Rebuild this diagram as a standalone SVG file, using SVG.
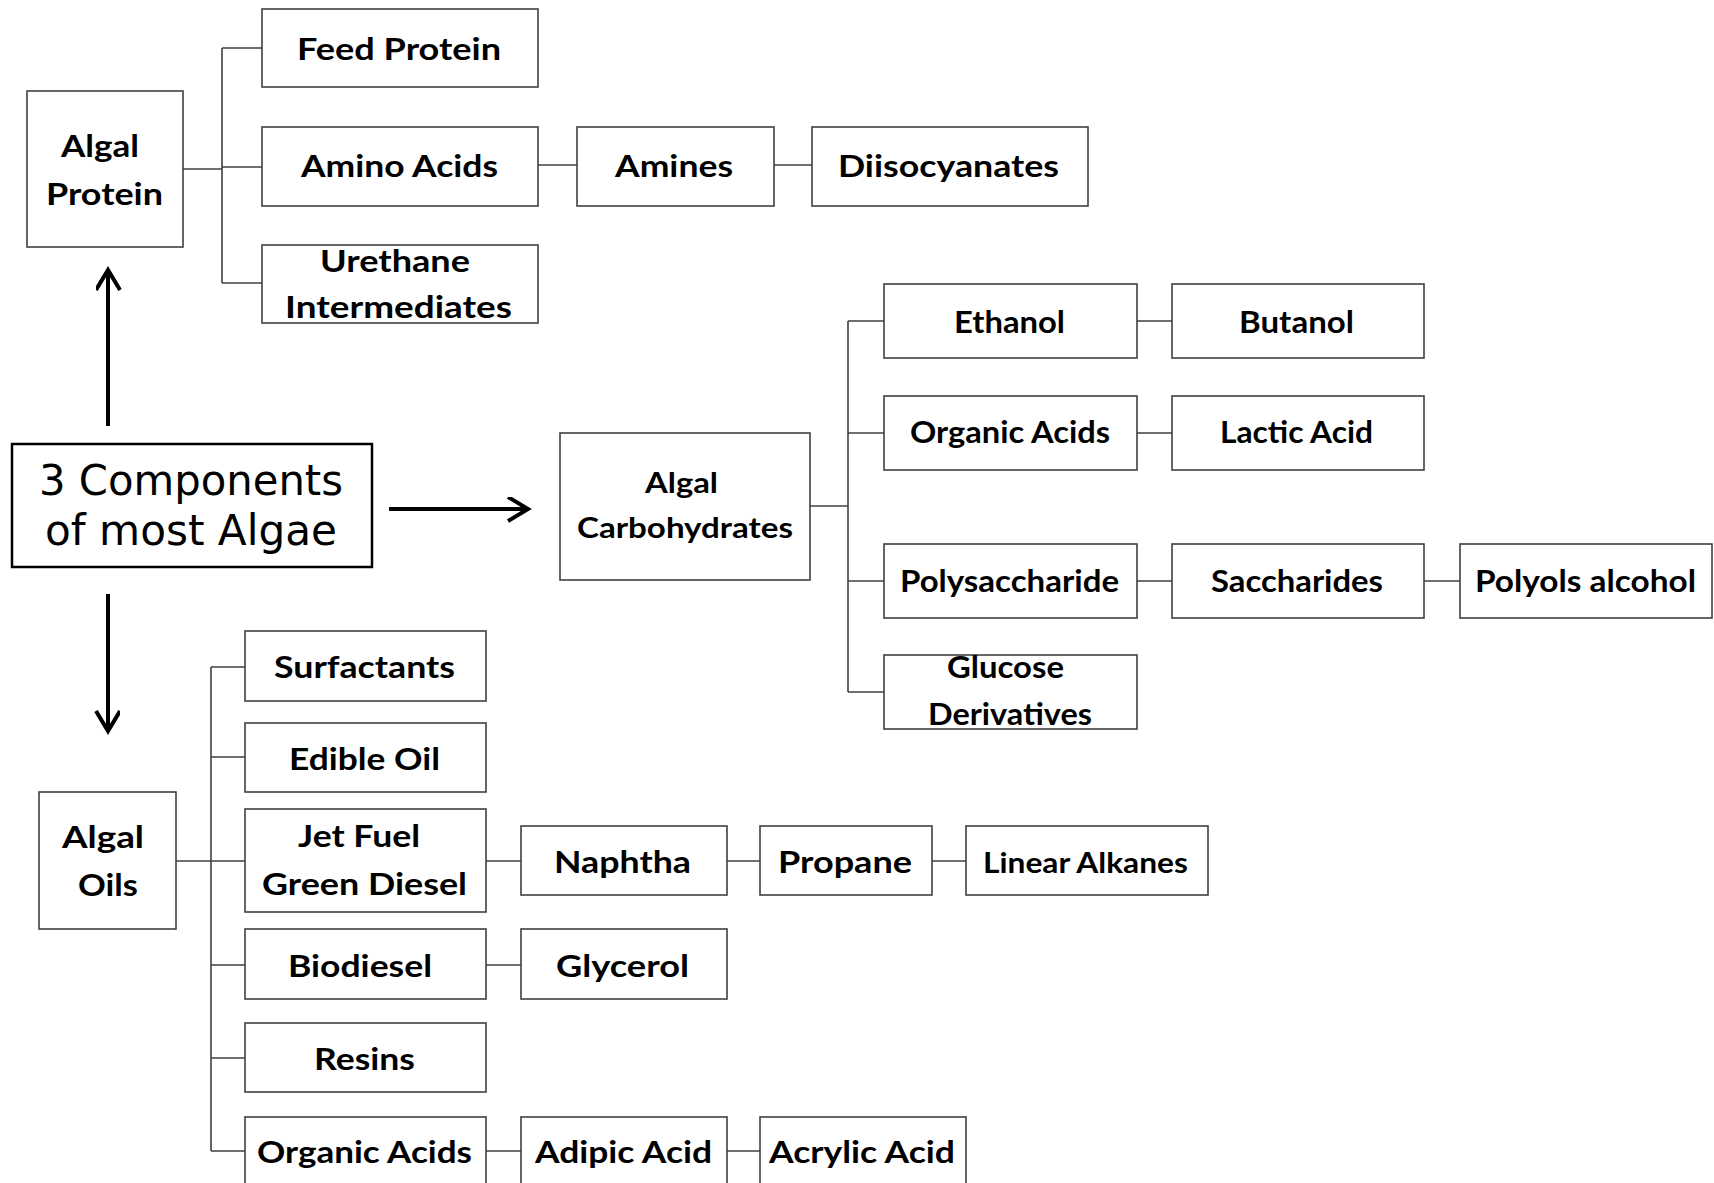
<svg xmlns="http://www.w3.org/2000/svg" width="1714" height="1183" viewBox="0 0 1714 1183">
<style>
.box{fill:#fff;stroke:#404040;stroke-width:1.6}
.main{fill:#fff;stroke:#000;stroke-width:2.5}
.ln{fill:none;stroke:#404040;stroke-width:1.6}
.arr{fill:none;stroke:#000;stroke-width:4}
.t{font-family:Lato,"Open Sans",sans-serif;font-weight:bold;font-size:31px;fill:#000}
.s{font-size:28px}
.m{font-family:"DejaVu Sans",Verdana,sans-serif;font-size:42px;fill:#000}
</style>
<defs>
<marker id="ah" markerUnits="userSpaceOnUse" markerWidth="30" markerHeight="30" refX="22" refY="12" orient="auto" viewBox="0 0 30 30">
<path d="M2,0 L22,12 L2,24" fill="none" stroke="#000" stroke-width="4"/>
</marker>
</defs>
<rect width="1714" height="1183" fill="#fff"/>

<g id="connectors">
<path class="ln" d="M183,169 H222 M222,48 V283 M222,48 H262 M222,167 H262 M222,283 H262 M538,165 H577 M774,165 H812"/>
<path class="ln" d="M810,506 H848 M848,321 V692 M848,321 H884 M848,433 H884 M848,581 H884 M848,692 H884 M1137,321 H1172 M1137,433 H1172 M1137,581 H1172 M1424,581 H1460"/>
<path class="ln" d="M176,861 H211 M211,667 V1151 M211,667 H245 M211,757 H245 M211,861 H245 M211,965 H245 M211,1058 H245 M211,1151 H245 M486,861 H521 M727,861 H760 M932,861 H966 M486,965 H521 M486,1151 H521 M727,1151 H760"/>
<line class="arr" x1="108" y1="426" x2="108" y2="270" marker-end="url(#ah)"/>
<line class="arr" x1="389" y1="509" x2="528" y2="509" marker-end="url(#ah)"/>
<line class="arr" x1="108" y1="594" x2="108" y2="731" marker-end="url(#ah)"/>
</g>

<g id="n-main"><rect class="main" x="12" y="444" width="360" height="123"/>
<text class="m" x="39" y="495" textLength="304" lengthAdjust="spacingAndGlyphs">3 Components</text>
<text class="m" x="45" y="545" textLength="292" lengthAdjust="spacingAndGlyphs">of most Algae</text></g>

<g id="n-protein"><rect class="box" x="27" y="91" width="156" height="156"/>
<text class="t" x="61" y="157" textLength="78" lengthAdjust="spacingAndGlyphs">Algal</text>
<text class="t" x="46" y="205" textLength="117" lengthAdjust="spacingAndGlyphs">Protein</text></g>
<g id="n-feed"><rect class="box" x="262" y="9" width="276" height="78"/>
<text class="t" x="297" y="60" textLength="204" lengthAdjust="spacingAndGlyphs">Feed Protein</text></g>
<g id="n-amino"><rect class="box" x="262" y="127" width="276" height="79"/>
<text class="t" x="301" y="177" textLength="197" lengthAdjust="spacingAndGlyphs">Amino Acids</text></g>
<g id="n-amines"><rect class="box" x="577" y="127" width="197" height="79"/>
<text class="t" x="615" y="177" textLength="118" lengthAdjust="spacingAndGlyphs">Amines</text></g>
<g id="n-diiso"><rect class="box" x="812" y="127" width="276" height="79"/>
<text class="t" x="838" y="177" textLength="221" lengthAdjust="spacingAndGlyphs">Diisocyanates</text></g>
<g id="n-urethane"><rect class="box" x="262" y="245" width="276" height="78"/>
<text class="t" x="320" y="272" textLength="150" lengthAdjust="spacingAndGlyphs">Urethane</text>
<text class="t" x="285" y="318" textLength="227" lengthAdjust="spacingAndGlyphs">Intermediates</text></g>

<g id="n-carb"><rect class="box" x="560" y="433" width="250" height="147"/>
<text class="t s" x="645" y="493" textLength="73" lengthAdjust="spacingAndGlyphs">Algal</text>
<text class="t s" x="577" y="538" textLength="216" lengthAdjust="spacingAndGlyphs">Carbohydrates</text></g>
<g id="n-ethanol"><rect class="box" x="884" y="284" width="253" height="74"/>
<text class="t" x="954" y="333" textLength="111" lengthAdjust="spacingAndGlyphs">Ethanol</text></g>
<g id="n-butanol"><rect class="box" x="1172" y="284" width="252" height="74"/>
<text class="t" x="1239" y="333" textLength="115" lengthAdjust="spacingAndGlyphs">Butanol</text></g>
<g id="n-orgacid1"><rect class="box" x="884" y="396" width="253" height="74"/>
<text class="t" x="910" y="443" textLength="200" lengthAdjust="spacingAndGlyphs">Organic Acids</text></g>
<g id="n-lactic"><rect class="box" x="1172" y="396" width="252" height="74"/>
<text class="t" x="1220" y="443" textLength="153" lengthAdjust="spacingAndGlyphs">Lactic Acid</text></g>
<g id="n-polysacc"><rect class="box" x="884" y="544" width="253" height="74"/>
<text class="t" x="900" y="592" textLength="219" lengthAdjust="spacingAndGlyphs">Polysaccharide</text></g>
<g id="n-sacch"><rect class="box" x="1172" y="544" width="252" height="74"/>
<text class="t" x="1211" y="592" textLength="172" lengthAdjust="spacingAndGlyphs">Saccharides</text></g>
<g id="n-polyols"><rect class="box" x="1460" y="544" width="252" height="74"/>
<text class="t" x="1475" y="592" textLength="221" lengthAdjust="spacingAndGlyphs">Polyols alcohol</text></g>
<g id="n-glucose"><rect class="box" x="884" y="655" width="253" height="74"/>
<text class="t" x="947" y="678" textLength="117" lengthAdjust="spacingAndGlyphs">Glucose</text>
<text class="t" x="928" y="725" textLength="164" lengthAdjust="spacingAndGlyphs">Derivatives</text></g>

<g id="n-oils"><rect class="box" x="39" y="792" width="137" height="137"/>
<text class="t" x="62" y="848" textLength="82" lengthAdjust="spacingAndGlyphs">Algal</text>
<text class="t" x="78" y="896" textLength="60" lengthAdjust="spacingAndGlyphs">Oils</text></g>
<g id="n-surf"><rect class="box" x="245" y="631" width="241" height="70"/>
<text class="t" x="274" y="678" textLength="181" lengthAdjust="spacingAndGlyphs">Surfactants</text></g>
<g id="n-edible"><rect class="box" x="245" y="723" width="241" height="69"/>
<text class="t" x="289" y="770" textLength="151" lengthAdjust="spacingAndGlyphs">Edible Oil</text></g>
<g id="n-jet"><rect class="box" x="245" y="809" width="241" height="103"/>
<text class="t" x="298" y="847" textLength="122" lengthAdjust="spacingAndGlyphs">Jet Fuel</text>
<text class="t" x="262" y="895" textLength="205" lengthAdjust="spacingAndGlyphs">Green Diesel</text></g>
<g id="n-naphtha"><rect class="box" x="521" y="826" width="206" height="69"/>
<text class="t" x="554" y="873" textLength="137" lengthAdjust="spacingAndGlyphs">Naphtha</text></g>
<g id="n-propane"><rect class="box" x="760" y="826" width="172" height="69"/>
<text class="t" x="778" y="873" textLength="134" lengthAdjust="spacingAndGlyphs">Propane</text></g>
<g id="n-linear"><rect class="box" x="966" y="826" width="242" height="69"/>
<text class="t s" x="983" y="873" textLength="205" lengthAdjust="spacingAndGlyphs">Linear Alkanes</text></g>
<g id="n-biodiesel"><rect class="box" x="245" y="929" width="241" height="70"/>
<text class="t" x="288" y="977" textLength="144" lengthAdjust="spacingAndGlyphs">Biodiesel</text></g>
<g id="n-glycerol"><rect class="box" x="521" y="929" width="206" height="70"/>
<text class="t" x="556" y="977" textLength="133" lengthAdjust="spacingAndGlyphs">Glycerol</text></g>
<g id="n-resins"><rect class="box" x="245" y="1023" width="241" height="69"/>
<text class="t" x="314" y="1070" textLength="101" lengthAdjust="spacingAndGlyphs">Resins</text></g>
<g id="n-orgacid2"><rect class="box" x="245" y="1117" width="241" height="75"/>
<text class="t" x="257" y="1163" textLength="215" lengthAdjust="spacingAndGlyphs">Organic Acids</text></g>
<g id="n-adipic"><rect class="box" x="521" y="1117" width="206" height="75"/>
<text class="t" x="535" y="1163" textLength="177" lengthAdjust="spacingAndGlyphs">Adipic Acid</text></g>
<g id="n-acrylic"><rect class="box" x="760" y="1117" width="206" height="75"/>
<text class="t" x="769" y="1163" textLength="186" lengthAdjust="spacingAndGlyphs">Acrylic Acid</text></g>
</svg>
